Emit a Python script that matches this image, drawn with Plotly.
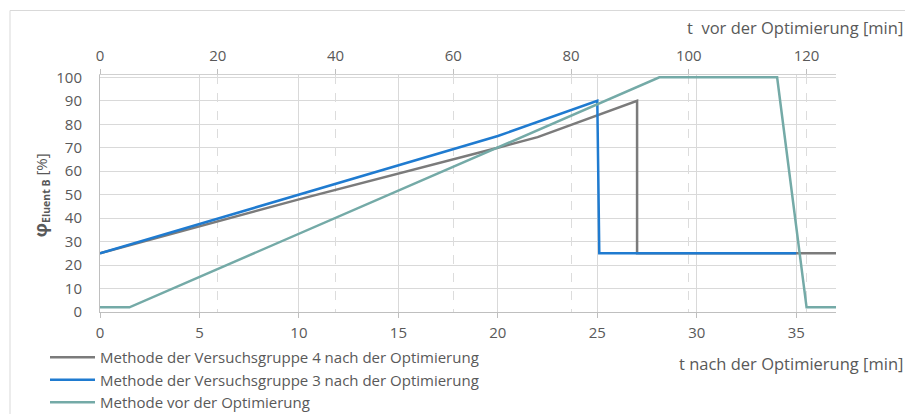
import plotly.graph_objects as go

# ---- data ----
g4_x = [0, 10, 20, 22, 27, 27, 37]
g4_y = [25, 48, 70, 74.5, 90, 25, 25]
g3_x = [0, 20, 25, 25.1, 35]
g3_y = [25, 75, 90, 25, 25]
vor_x = [0, 5, 95, 115, 120, 125]
vor_y = [2, 2, 100, 100, 2, 2]

names = ["Methode der Versuchsgruppe 4 nach der Optimierung",
         "Methode der Versuchsgruppe 3 nach der Optimierung",
         "Methode vor der Optimierung"]
colors = ["#7b7b7b", "#1f7bd0", "#74aaa7"]

bottom_ticks = [0, 5, 10, 15, 20, 25, 30, 35]
top_ticks = [0, 20, 40, 60, 80, 100, 120]
y_ticks = [0, 10, 20, 30, 40, 50, 60, 70, 80, 90, 100]

W, H = 905, 414
L, R, T, B = 100, 836, 74.6, 312
def px(x):
    return (x - L) / (R - L)
def py(y):
    return (B - y) / (B - T)

FONT = "Open Sans"
TXT = "#595959"

fig = go.Figure()
fig.add_trace(go.Scatter(x=g4_x, y=g4_y, mode="lines", name=names[0],
                         line=dict(color=colors[0], width=2.5), xaxis="x", yaxis="y"))
fig.add_trace(go.Scatter(x=g3_x, y=g3_y, mode="lines", name=names[1],
                         line=dict(color=colors[1], width=2.5), xaxis="x", yaxis="y"))
fig.add_trace(go.Scatter(x=vor_x, y=vor_y, mode="lines", name=names[2],
                         line=dict(color=colors[2], width=2.5), xaxis="x2", yaxis="y"))

fig.update_layout(
    width=W, height=H,
    margin=dict(l=L, r=W - R, t=T, b=H - B, pad=0, autoexpand=False),
    paper_bgcolor="white", plot_bgcolor="white",
    font=dict(family=FONT, size=15, color=TXT),
    xaxis=dict(range=[0, 37], tickvals=bottom_ticks, showgrid=True, gridcolor="#d9d9d9",
               gridwidth=1, showline=True, linecolor="#bfbfbf", linewidth=1,
               ticks="outside", ticklen=5, tickcolor="#bfbfbf", zeroline=False,
               ticklabelstandoff=2, tickfont=dict(size=15)),
    xaxis2=dict(range=[0, 125], tickvals=top_ticks, overlaying="x", side="top",
                showgrid=True, gridcolor="#dcdcdc", griddash="dash", gridwidth=1,
                showline=True, linecolor="#d0d0d0", linewidth=1,
                ticks="outside", ticklen=5, tickcolor="#bfbfbf", zeroline=False,
                ticklabelstandoff=2, tickfont=dict(size=15)),
    yaxis=dict(range=[0, 101], tickvals=y_ticks, showgrid=True, gridcolor="#d9d9d9",
               showline=True, linecolor="#bfbfbf", linewidth=1, zeroline=False,
               ticks="", ticklabelstandoff=14, tickfont=dict(size=15)),
    legend=dict(x=px(45), y=py(341), xanchor="left", yanchor="top",
                font=dict(size=15, color=TXT, family=FONT), tracegroupgap=0,
                bgcolor="rgba(0,0,0,0)", itemwidth=45),
    showlegend=True,
)

fig.add_shape(type="rect", xref="paper", yref="paper",
              x0=px(10), y0=py(430), x1=px(1000), y1=py(10),
              line=dict(color="#d9d9d9", width=1), fillcolor="rgba(0,0,0,0)", layer="below")

fig.add_annotation(text="t  vor der Optimierung [min]", xref="paper", yref="paper",
                   x=px(905), y=py(27), xanchor="right", yanchor="middle", showarrow=False,
                   font=dict(size=16.5, color=TXT, family=FONT))
fig.add_annotation(text="t nach der Optimierung [min]", xref="paper", yref="paper",
                   x=px(905), y=py(364), xanchor="right", yanchor="middle", showarrow=False,
                   font=dict(size=16.5, color=TXT, family=FONT))
fig.add_annotation(text="<b><span style='font-size:18px'>φ</span></b><sub><b>Eluent B</b></sub> [%]",
                   xref="paper", yref="paper",
                   x=px(40), y=py(195), xanchor="center", yanchor="middle", showarrow=False,
                   textangle=-90, font=dict(size=15, color=TXT, family=FONT))

fig.write_html("out.html")
